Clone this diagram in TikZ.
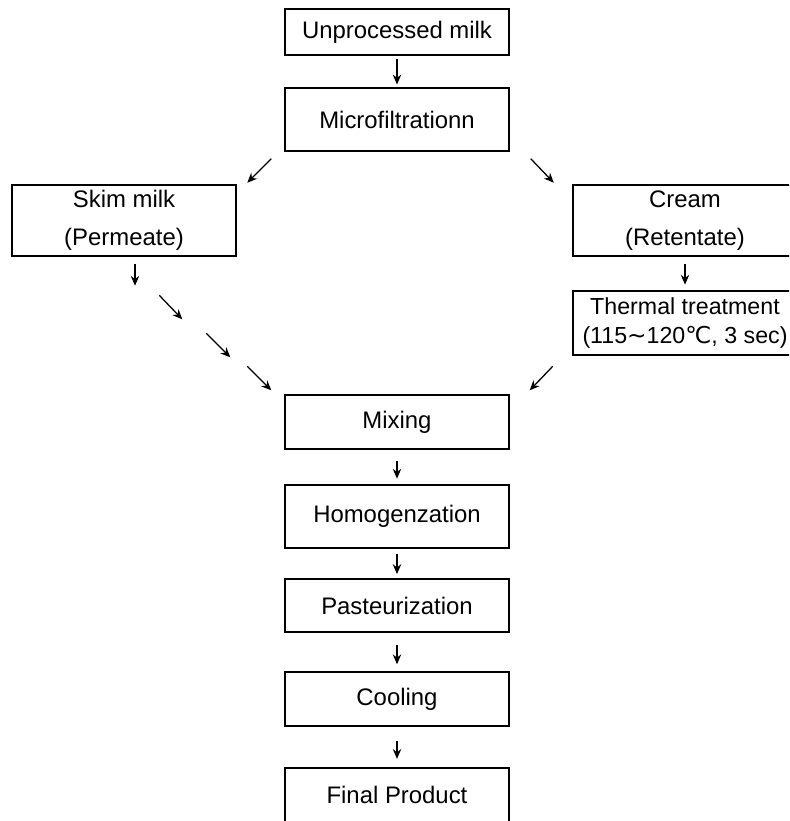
\documentclass[tikz,border=0pt]{standalone}
\usepackage{fontspec}
\setmainfont{Liberation Sans}
\newfontfamily\symfont{DejaVu Sans}
\usepackage{tikz}
\usetikzlibrary{positioning,arrows.meta,calc}

\begin{document}
\begin{tikzpicture}[
  x=0.025cm, y=-0.025cm,
  box/.style={rectangle, draw, line width=1pt, minimum width=5.6cm, align=center,
    font=\fontsize{17}{27}\selectfont, inner sep=0pt},
  arr/.style={-{Stealth[length=7pt,width=6pt]}, line width=0.9pt, shorten <=2pt, shorten >=2pt}
]
\useasboundingbox (0,0) rectangle (789,821);
\clip (0,0) rectangle (789,821);

\node[box, minimum height=1.15cm] (unp) at (397,32) {Unprocessed milk};
\node[box, minimum height=1.575cm] (micro) at (397,119.5) {Microfiltrationn};

\node[box, minimum height=1.775cm] (skim) at (124,220.5) {Skim milk\\(Permeate)};
\node[box, minimum height=1.775cm] (cream) at (685,220.5) {Cream\\(Retentate)};
\node[box, minimum height=1.6cm, font=\fontsize{16.5}{21}\selectfont] (therm) at (685,323)
  {Thermal treatment\\(115{\symfont ∼}120{\symfont ℃}, 3 sec)};

\node[box, minimum height=1.35cm] (mix) at (397,422) {Mixing};
\node[box, minimum height=1.575cm] (homog) at (397,516.5) {Homogenzation};
\node[box, minimum height=1.325cm] (past) at (397,605.5) {Pasteurization};
\node[box, minimum height=1.35cm] (cool) at (397,699) {Cooling};
\node[box, minimum height=1.35cm] (final) at (397,795) {Final Product};

% main column
\draw[arr] (unp) -- (micro);
\draw[arr, shorten <=8pt, shorten >=4pt] (mix) -- (homog);
\draw[arr, shorten <=4pt, shorten >=3pt] (homog) -- (past);
\draw[arr, shorten <=9pt, shorten >=5pt] (past) -- (cool);
\draw[arr, shorten <=10pt, shorten >=6pt] (cool) -- (final);

% split
\draw[arr, shorten <=0pt, shorten >=0pt] ([shift={(-13,7)}]micro.south west) -- ++(-24,24);
\draw[arr, shorten <=0pt, shorten >=0pt] ([shift={(21,7)}]micro.south east) -- ++(23,24);

% cream side
\draw[arr, shorten <=5pt, shorten >=4pt] (cream) -- (therm);
\draw[arr, shorten <=0pt, shorten >=0pt] ([shift={(43,-28)}]mix.north east) -- ++(-23,24);

% skim milk side
\draw[arr, shorten <=0pt, shorten >=0pt] ([shift={(11,7)}]skim.south) -- ++(0,22);
\draw[arr, shorten <=0pt, shorten >=0pt] ([shift={(-125,-99)}]mix.north west) -- ++(23,24);
\draw[arr, shorten <=0pt, shorten >=0pt] ([shift={(-78,-61)}]mix.north west) -- ++(24,24);
\draw[arr, shorten <=0pt, shorten >=0pt] ([shift={(-37,-28)}]mix.north west) -- ++(24,24);
\end{tikzpicture}
\end{document}
